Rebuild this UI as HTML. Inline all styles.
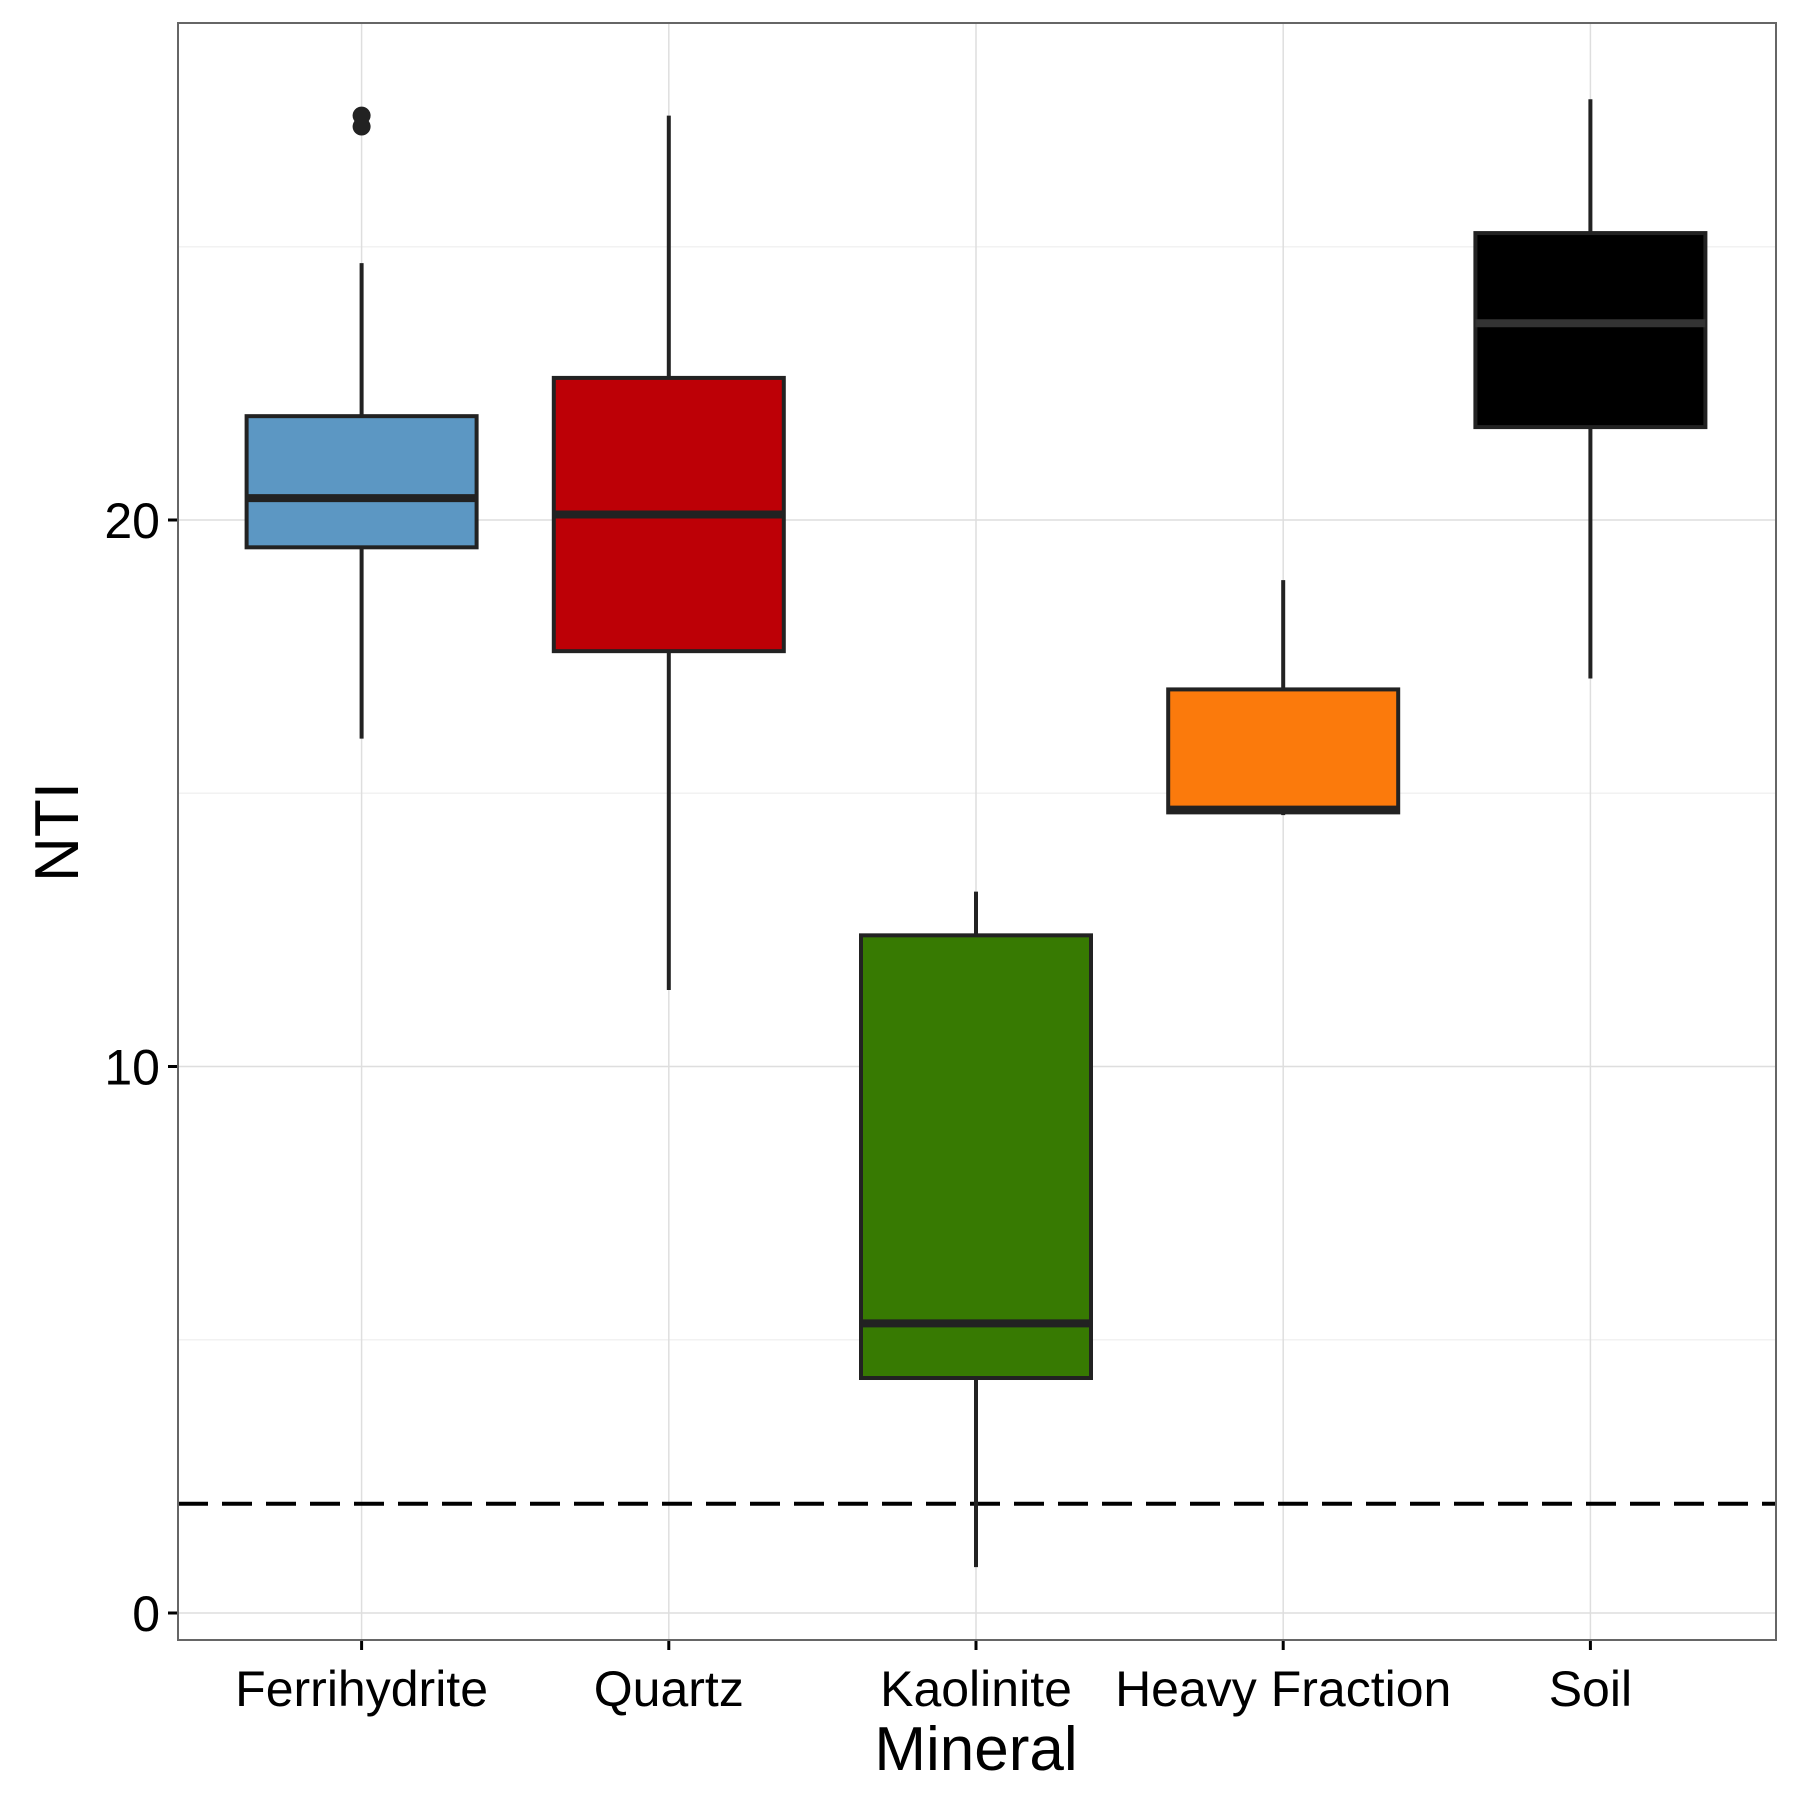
<!DOCTYPE html>
<html><head><meta charset="utf-8"><style>
body{margin:0;background:#fff}
svg{display:block;font-family:"Liberation Sans",Arial,sans-serif}
</style></head><body>
<svg id="chart" width="1800" height="1800" viewBox="0 0 1800 1800" xmlns="http://www.w3.org/2000/svg"></svg>
<script>
const categories=["Ferrihydrite","Quartz","Kaolinite","Heavy Fraction","Soil"];
const whiskerLow=[16.0,11.4,0.84,14.6,17.1];
const q1=[19.5,17.6,4.3,14.65,21.7];
const median=[20.4,20.1,5.3,14.7,23.6];
const q3=[21.9,22.6,12.4,16.9,25.25];
const whiskerHigh=[24.7,27.4,13.2,18.9,27.7];
const outliers=[[27.4,27.2],[],[],[],[]];
const fills=["#5c97c3","#bd0006","#377a02","#fb7a0c","#000000"];
const yTicks=[0,10,20];
const yMinor=[5,15,25];
const refLine=2;

const svg=document.getElementById('chart');
const NS='http://www.w3.org/2000/svg';
const L=178,R=1776,T=23,B=1640;
const y=v=>1613-v*54.65;
const x=i=>361.6+i*307.2;
const bw=230;
function el(tag,attrs,parent){const e=document.createElementNS(NS,tag);for(const k in attrs)e.setAttribute(k,attrs[k]);(parent||svg).appendChild(e);return e;}

el('rect',{x:L,y:T,width:R-L,height:B-T,fill:'#fff'});
yMinor.forEach(v=>{const g=el('line',{x1:L,x2:R,y1:y(v),y2:y(v),stroke:'#f2f2f2','stroke-width':1.5});

});
yTicks.forEach(v=>{const g=el('line',{x1:L,x2:R,y1:y(v),y2:y(v),stroke:'#dedede','stroke-width':1.5});


const t=el('line',{x1:L-10,x2:L,y1:y(v),y2:y(v),stroke:'#000','stroke-width':3});


const lb=el('text',{x:L-18,y:y(v)+18,'text-anchor':'end','font-size':50,fill:'#000'});lb.textContent=v;

});
categories.forEach((c,i)=>{const g=el('line',{x1:x(i),x2:x(i),y1:T,y2:B,stroke:'#dedede','stroke-width':1.5});

});

const ref=el('line',{x1:L,x2:R,y1:y(refLine),y2:y(refLine),stroke:'#000','stroke-width':4,'stroke-dasharray':'30 14'});



categories.forEach((c,i)=>{
  const g=el('g',{});
  
  
  el('line',{x1:x(i),x2:x(i),y1:y(whiskerHigh[i]),y2:y(q3[i]),stroke:'#222','stroke-width':4},g);
  el('line',{x1:x(i),x2:x(i),y1:y(q1[i]),y2:y(whiskerLow[i]),stroke:'#222','stroke-width':4},g);
  el('rect',{x:x(i)-bw/2,y:y(q3[i]),width:bw,height:y(q1[i])-y(q3[i]),fill:fills[i],stroke:'#222','stroke-width':4},g);
  el('line',{x1:x(i)-bw/2,x2:x(i)+bw/2,y1:y(median[i]),y2:y(median[i]),stroke:i==4?'#333':'#222','stroke-width':8},g);
  outliers[i].forEach(o=>{const p=el('circle',{cx:x(i),cy:y(o),r:9,fill:'#222'},g);
  
  });
  const t=el('line',{x1:x(i),x2:x(i),y1:B,y2:B+10,stroke:'#000','stroke-width':3});
  
  
  const lb=el('text',{x:x(i),y:1706,'text-anchor':'middle','font-size':50,fill:'#000'});lb.textContent=c;
  
  
});
const border=el('rect',{x:L,y:T,width:R-L,height:B-T,fill:'none',stroke:'#666','stroke-width':2});


const xt=el('text',{x:976,y:1770,'text-anchor':'middle','font-size':62,fill:'#000'});xt.textContent='Mineral';


const yt=el('text',{x:0,y:0,'text-anchor':'middle','font-size':62,fill:'#000',transform:'translate(78,832) rotate(-90)'});yt.textContent='NTI';


</script>
</body></html>
